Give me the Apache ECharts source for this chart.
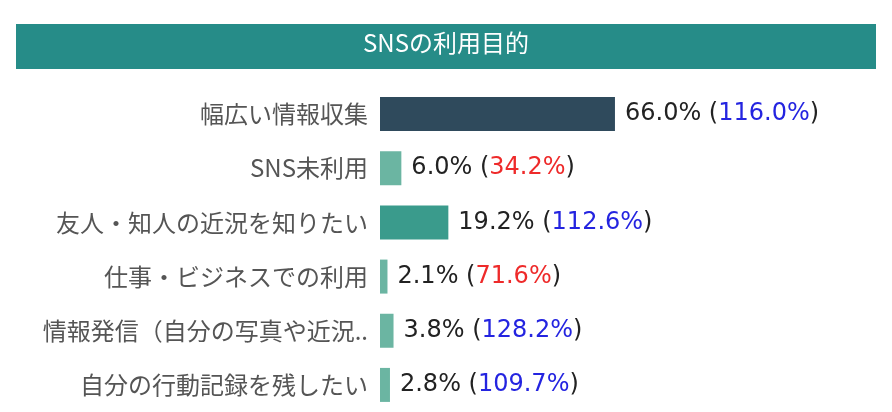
<!DOCTYPE html>
<html>
<head>
<meta charset="utf-8">
<script src="https://cdn.jsdelivr.net/npm/echarts@6/dist/echarts.min.js"></script>
<style>
  html, body { margin: 0; padding: 0; background: #fff; }
  #main { width: 892px; height: 412px; }
</style>
</head>
<body>
<div id="main"></div>
<script>
// データ
var titleText = 'SNSの利用目的';
var categories = ['幅広い情報収集', 'SNS未利用', '友人・知人の近況を知りたい', '仕事・ビジネスでの利用', '情報発信（自分の写真や近況..', '自分の行動記録を残したい'];
var shares = [66.0, 6.0, 19.2, 2.1, 3.8, 2.8];
var ratios = [116.0, 34.2, 112.6, 71.6, 128.2, 109.7];

// 棒の色
var barColors = ['#2f4a5c', '#6bb5a2', '#3a9b8c', '#6bb5a2', '#6bb5a2', '#6bb5a2'];

var chart = echarts.init(document.getElementById('main'));

var seriesData = shares.map(function (v, i) {
  return { value: v, ratio: ratios[i], itemStyle: { color: barColors[i] } };
});

var option = {
  animation: false,
  backgroundColor: '#fff',
  graphic: [
    {
      type: 'rect',
      left: 16,
      top: 24,
      shape: { width: 860, height: 45 },
      style: { fill: '#268c88' },
      z: 0
    }
  ],
  title: {
    text: titleText,
    left: 'center',
    top: 26,
    textStyle: {
      color: '#fff',
      fontSize: 24,
      fontWeight: 'normal',
      fontFamily: 'Noto Sans CJK JP'
    },
    z: 10
  },
  grid: {
    left: 380,
    top: 87,
    width: 356,
    height: 325
  },
  xAxis: {
    type: 'value',
    min: 0,
    max: 100,
    show: false
  },
  yAxis: {
    type: 'category',
    inverse: true,
    data: categories,
    axisLine: { show: false },
    axisTick: { show: false },
    axisLabel: {
      color: '#555',
      fontSize: 24,
      margin: 12,
      fontFamily: 'Noto Sans CJK JP'
    }
  },
  series: [
    {
      type: 'bar',
      barWidth: 34,
      data: seriesData,
      label: {
        show: true,
        position: 'right',
        distance: 10,
        color: '#222',
        fontSize: 24,
        fontFamily: 'DejaVu Sans',
        formatter: function (p) {
          var r = p.data.ratio;
          var key = r >= 100 ? 'up' : 'down';
          return p.value.toFixed(1) + '% ({' + key + '|' + r.toFixed(1) + '%})';
        },
        rich: {
          up: { color: '#2424e0', fontSize: 24, fontFamily: 'DejaVu Sans' },
          down: { color: '#ee2a2a', fontSize: 24, fontFamily: 'DejaVu Sans' }
        }
      }
    }
  ]
};

chart.setOption(option);
</script>
</body>
</html>
